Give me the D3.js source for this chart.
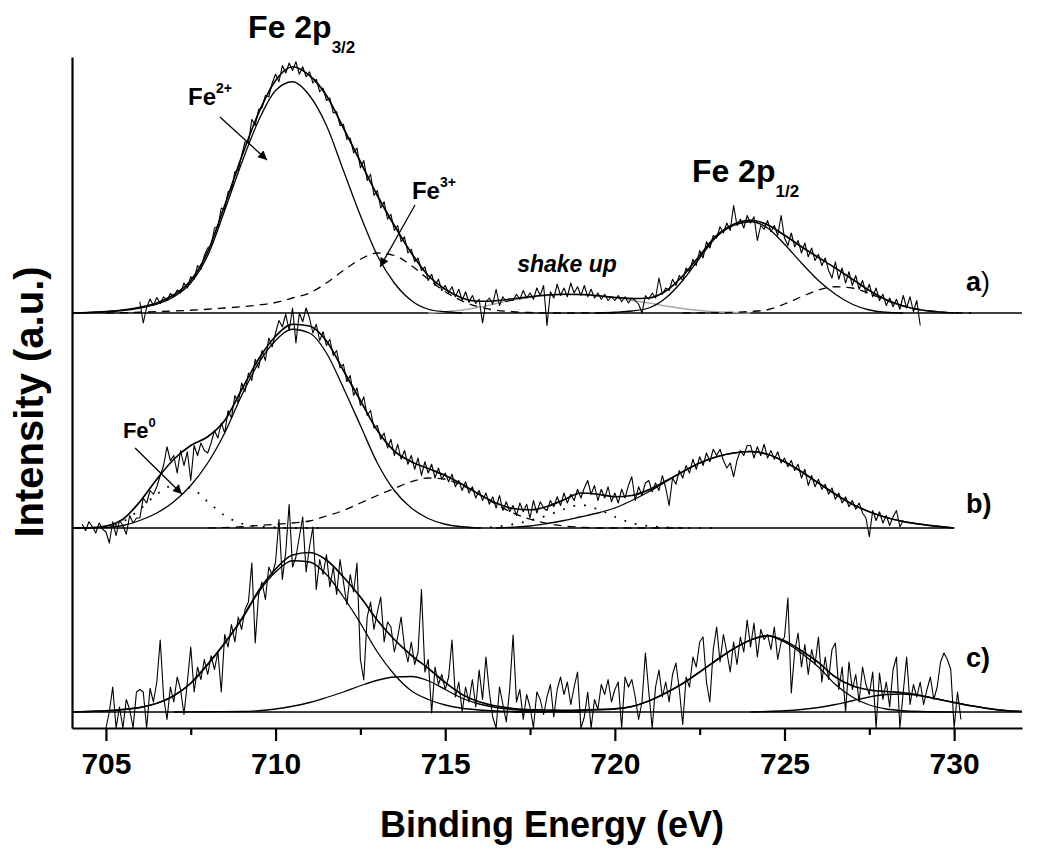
<!DOCTYPE html>
<html>
<head>
<meta charset="utf-8">
<script src="https://cdn.jsdelivr.net/npm/d3@7"></script>
<style>
  body { margin: 0; background: #ffffff; }
  svg { display: block; font-family: 'Liberation Sans', Arial, sans-serif; }
</style>
</head>
<body>
<svg id="svg_xps" width="1038" height="849"></svg>
<script>
// raw spectra, one value every 0.1 eV
const rawStep = 0.1;
const rawStartA = 706.0;
const rawStartB = 704.3;
const rawStartC = 705.0;

const rawA = [
  4.5, -4, 2.2, 5.6, 3, 6.2, 3.8, 6.5, 5, 7.8,
  6.5, 9.2, 8, 12, 10, 14.5, 13.5, 19, 17.5, 23,
  26, 27, 34, 34.5, 42, 41.5, 48.5, 49, 56.5, 57,
  63, 68.5, 68, 77.5, 75, 81.5, 82, 87, 86.5, 92,
  95.5, 92.5, 99, 96, 100, 97, 100.5, 95.5, 98.5, 94.5,
  96.5, 92, 93.5, 88.5, 90, 85, 86, 80, 80.5, 75,
  75.5, 69.5, 70, 64, 66, 58, 61, 53, 55.5, 47,
  49, 42, 44.5, 37.5, 39.5, 33, 35, 28.5, 30.5, 24,
  25.5, 20.5, 22, 17, 18.5, 13, 15.5, 11, 13.5, 9,
  11, 8, 10.5, 6.5, 9.5, 5, 8.5, 4.2, 7, 3.8,
  5.5, -4, 4.5, 6, 3.5, 9.5, 3, 6.5, 4.5, 5,
  5, 7.5, 5.5, 9, 6, 8, 5.5, 10, 7, 11,
  -5, 8.5, 6, 11.5, 7, 10, 6.5, 12, 8, 10.5,
  7, 11, 6.5, 9.5, 6, 8, 5.5, 7.5, 5, 6.5,
  5, 7, 4.5, 6.5, 4, 6, 5, 3.5, 0, 7,
  5.5, 8, 6, 14, 7.5, 10, 9, 13.5, 11, 15,
  13, 18, 16.5, 21.5, 19, 25, 22, 28.5, 26, 31,
  30, 34.5, 32, 36, 33, 43, 35, 37.5, 34, 39,
  36, 38.5, 29, 35, 33.5, 37, 32.5, 35, 31, 39,
  30, 27, 32, 26.5, 29, 24, 28, 22.5, 26, 21,
  23.5, 19, 22, 17, 14, 20.5, 13.5, 18, 12, 16.5,
  11, 15, 9.5, 13, 8, 11.5, 6.5, 10, 5, 7.5,
  3, 6, 2.5, 5.5, 1.5, 7, 2, 6.5, 0.5, 5,
  -5
];

const rawB = [
  1.5, -1, 2.5, 0.5, -2, 2, -0.5,
  -1.5, -6, 2.5, -3, 3, 1, -2.5, 5, 2, 4,
  4, 12, 10, 15, 13.5, 16.5, 21, 25, 32.5, 27,
  29, 22, 31, 25, 30.5, 19, 33, 29, 34, 31,
  30, 34, 39, 36, 42, 38, 47, 44, 53, 50,
  58, 54.5, 62, 59, 67.5, 64, 71, 67, 76, 72.5,
  78, 83, 80.5, 85.5, 79, 88, 74, 86, 82.5, 88,
  84, 78, 81.5, 75, 78.5, 73, 75.5, 69, 71, 64,
  65.5, 58.5, 61, 53, 56, 49, 52.5, 45, 47, 40,
  41, 35.5, 38, 32, 35.5, 29, 33.5, 27.5, 31, 25.5,
  29, 23.5, 28, 21, 26.5, 22, 25.5, 20, 24, 19.5,
  22, 18.5, 21.5, 16.5, 19, 15, 18.5, 14, 16.5, 12,
  15, 11, 14, 9.5, 12.5, 8, 13, 7, 10.5, 6.5,
  9, 5, 10, 6.5, 9.5, 4, 11, 6, 10.5, 8,
  7, 11, 8.5, 12.5, 9, 14, 10, 13.5, 11, 15.5,
  12, 16, 19, 13.5, 17, 11, 15.5, 12, 16.5, 10.5,
  14, 10, 15.5, 12, 17, 20.5, 11, 16.5, 13, 18,
  19, 14.5, 18, 15, 21, 16, 9, 20, 17.5, 23,
  20, 25, 22, 27.5, 23.5, 28.5, 25, 30, 26.5, 31.5,
  29, 31.5, 27, 24, 26, 20.5, 27, 31, 29, 33,
  33, 28, 32.5, 29, 33.5, 28, 31, 27.5, 30.5, 26,
  28, 24.5, 27, 23, 25.5, 20, 23.5, 17, 21, 16.5,
  19.5, 15.5, 17.5, 13.5, 16, 11.5, 14, 10, 12.5, 8.5,
  11, 7.5, 10, 6, 4, -3.5, 7, 3, 6.5, 2,
  5, 1, 4.5, 7, 0.5, 3
];

const rawC = [
  -6.4, 0, 10, -6.4, 2, -6.4, 5, 1, -6.4, 8,
  9, 8, -6.4, 9.5, 4, 12, 28.8, 6, -3, 10,
  4, 14, 9, -1, 12, 26, 8, 18, 13, 21,
  15, 22.5, 17, 24, 8, 31, 26, 35, 28, 38,
  33, 41, 44, 59.6, 27.6, 47, 52, 45, 58, 55,
  60, 77, 53, 64, 83, 58, 62, 70, 78, 56,
  66, 74, 49, 61, 55, 63, 50, 58, 47, 61,
  52, 43, 55, 48, 59.6, 21, 12.8, 38, 44, 33,
  40, 46, 28, 36, 34, 24, 30, 38, 26, 20,
  28, 19, 24, 49, 16, 21, -0.4, 18, 11, 15,
  9, 14, 28.8, 6, 12, 0, 10, 4, 13, 2,
  16.8, 5, 22, 8, -2, -6.4, 10, 3, -4, 9,
  30.8, 4, 9, -3, 7, 2, -6.4, 8, 5, -1,
  6, 11, -2, 9, 14, 7, 12, 3, 10, 16,
  -6.4, -2, 8, -6.4, 5, 1, 11, 7, 13, 4,
  9, 12, -6.4, 14, 10, 13, 6, -3, 4, 23.6,
  8, -6.4, 10, 16.8, 6, 12, 4, 15, 19.6, 9,
  -5, 14, 10, 22, 18, 28, 30, 12, 4, 25,
  34, 20, 31, 24, 16, 28, 19, 30, 24, 36.8,
  26, 35.6, 22, 33, 29, 31, 25, 34, 21, 28,
  30, 45.6, 7.6, 24, 31.6, 18, 27, 15, 25, 19,
  30, 12, 22, 13, 25, 27.6, 9, 18, 0, 20,
  9, 15, 4, 18, 11, 7, 16, -6.4, 15.6, 5,
  12, 2, 17, 22, -6.4, 8, 22, 3, 11, 6,
  12, 3, 9, 14, 5, 10, 20, 23.6, 21, 17,
  -6.4, 8, -3
];

// fitted curves, [binding energy, intensity]
const aEnvelope = [[704,0],[704.5,0.2],[705,0.6],[705.5,1.2],[706,2.3],[706.5,4],[707,7.3],[707.5,13],[708,24.5],[708.5,43],[709,62.5],[709.5,80],[710,93],[710.5,98.5],[711,95],[711.5,87],[712,74],[712.5,60.5],[713,47],[713.5,35],[714,24],[714.5,15],[715,9.5],[715.5,6],[716,4.7],[716.5,4.9],[717,5.7],[717.5,6.5],[718,7.2],[718.5,7.5],[719,7.4],[719.5,6.9],[720,6.2],[720.5,5.8],[721,6],[721.5,8.8],[722,14.8],[722.5,23],[723,31],[723.5,35.5],[724,37.1],[724.5,35.3],[725,31.1],[725.5,26.5],[726,22.2],[726.5,18],[727,13.5],[727.5,9],[728,5.3],[728.5,2.8],[729,1.3],[729.5,0.5],[730,0]];
const aFe2p3 = [[704,0],[704.5,0.2],[705,0.5],[705.5,1],[706,2],[706.5,3.5],[707,6.5],[707.5,12],[708,23],[708.5,41],[709,60],[709.5,77],[710,89],[710.5,92.5],[711,87],[711.5,75],[712,57],[712.5,39],[713,23],[713.5,12],[714,5],[714.5,1.5],[715,0.5],[715.5,0]];
const aFe2p1 = [[719.5,0],[720,0.3],[720.5,0.8],[721,2],[721.5,6],[722,13],[722.5,22],[723,30.5],[723.5,35],[724,36.5],[724.5,34],[725,27.5],[725.5,20],[726,13],[726.5,7.5],[727,3.5],[727.5,1.2],[728,0.3],[728.5,0]];
const aFe3p3 = [[705,0],[706,0.3],[707,0.8],[708,1.5],[708.5,2],[709,2.5],[709.5,3.2],[710,4.2],[710.5,6],[711,8],[711.5,12],[712,17],[712.5,21.5],[713,24],[713.5,23],[714,19],[714.5,13.5],[715,8.5],[715.5,4.8],[716,2.4],[716.5,1.1],[717,0.5],[717.5,0.2],[718,0],[720,0]];
const aFe3p1 = [[722,0],[723,0.1],[723.5,0.3],[724,0.6],[724.5,1.3],[725,3.6],[725.5,6.5],[726,9.2],[726.5,10.5],[727,10],[727.5,7.8],[728,5],[728.5,2.8],[729,1.3],[729.5,0.5],[730,0.1],[730.5,0]];
const aShake = [[714.5,0],[715,0.5],[715.5,1.2],[716,2.3],[716.5,3.8],[717,5.2],[717.5,6.3],[718,7],[718.5,7.4],[719,7.4],[719.5,6.9],[720,6.2],[720.5,5],[721,4],[721.5,2.8],[722,1.8],[722.5,1],[723,0.5],[723.5,0.2],[724,0]];

const bEnvelope = [[704,0],[704.5,0.1],[705,0.8],[705.5,3.5],[706,10.5],[706.5,19.5],[707,27.5],[707.5,33],[708,36.5],[708.5,43],[709,55.3],[709.5,67.6],[710,76.7],[710.5,81.5],[711,80.8],[711.5,74.8],[712,63],[712.5,51],[713,39],[713.5,30.8],[714,26.5],[714.5,23.8],[715,21],[715.5,17.5],[716,13.5],[716.5,10],[717,7.8],[717.5,7.3],[718,8.6],[718.5,11.3],[719,14],[719.5,13.5],[720,12.5],[720.5,13],[721,15.3],[721.5,18.8],[722,22.5],[722.5,26],[723,28.5],[723.5,30],[724,30.6],[724.5,29.5],[725,26.5],[725.5,22.5],[726,18],[726.5,13.5],[727,9.5],[727.5,6.5],[728,4.2],[728.5,2.6],[729,1.5],[729.5,0.7],[730,0]];
const bFe0 = [[704,0],[704.5,0.1],[705,0.5],[705.5,2.5],[706,7.5],[706.5,13.5],[707,17],[707.5,16],[708,10.5],[708.5,5],[709,1.8],[709.5,0.6],[710,0.2],[710.5,0],[711.5,0]];
const bFe2p3 = [[704,0],[704.5,0],[705,0.3],[705.5,1],[706,3],[706.5,6],[707,10.5],[707.5,17],[708,26],[708.5,38],[709,53],[709.5,66],[710,75],[710.5,79.5],[711,78],[711.5,70],[712,56],[712.5,41],[713,26],[713.5,15],[714,8],[714.5,3.8],[715,1.5],[715.5,0.5],[716,0]];
const bFe3 = [[708,0],[709,0.5],[709.5,1],[710,1.5],[710.5,2],[711,2.8],[711.5,4.8],[712,7],[712.5,10],[713,13],[713.5,15.8],[714,18.5],[714.5,20],[715,19.5],[715.5,17],[716,13.5],[716.5,9.5],[717,6],[717.5,3.5],[718,1.8],[718.5,0.8],[719,0.3],[719.5,0],[722,0]];
const bShake = [[716,0],[716.5,0.5],[717,1.5],[717.5,3],[718,5],[718.5,7.5],[719,9.2],[719.5,7.5],[720,4.5],[720.5,2],[721,0.8],[721.5,0.3],[722,0],[723,0]];
const bFe2p1 = [[716.5,0],[717,0.3],[717.5,0.8],[718,1.8],[718.5,3],[719,4.5],[719.5,6],[720,8],[720.5,11],[721,14.5],[721.5,18.5],[722,22.5],[722.5,26],[723,28.5],[723.5,30],[724,30.6],[724.5,29.5],[725,26.5],[725.5,22.5],[726,18],[726.5,13.5],[727,9.5],[727.5,6.5],[728,4.2],[728.5,2.6],[729,1.5],[729.5,0.7],[730,0]];

const cEnvelope = [[704,0],[704.5,0.2],[705,0.5],[705.5,1],[706,1.8],[706.5,3.5],[707,6.5],[707.5,11.5],[708,19.1],[708.5,27.6],[709,37.2],[709.5,48.5],[710,57.2],[710.5,62.8],[711,63.8],[711.5,60.8],[712,54],[712.5,46],[713,36.7],[713.5,29],[714,22.7],[714.5,17.5],[715,11.8],[715.5,7],[716,4.1],[716.5,2.4],[717,1.4],[717.5,0.9],[718,0.8],[718.5,0.7],[719,0.8],[719.5,1],[720,1.3],[720.5,2.2],[721,4.4],[721.5,7.6],[722,11.4],[722.5,16],[723,20.8],[723.5,25.3],[724,28.8],[724.5,30.6],[725,28.5],[725.5,24.5],[726,19.8],[726.5,14],[727,10.5],[727.5,8.8],[728,8.2],[728.5,7.7],[729,6.7],[729.5,5.2],[730,3.8],[730.5,2.5],[731,1.4],[731.5,0.6],[732,0.2]];
const cFe2p3 = [[704,0],[704.5,0.2],[705,0.5],[705.5,1],[706,1.8],[706.5,3.5],[707,6.5],[707.5,11.5],[708,19],[708.5,27.5],[709,37],[709.5,48],[710,56],[710.5,60.5],[711,60],[711.5,55],[712,46],[712.5,35.5],[713,24],[713.5,15],[714,8.5],[714.5,5],[715,2.8],[715.5,1.5],[716,0.8],[716.5,0.4],[717,0.2],[718,0]];
const cFe3 = [[707,0],[708,0.1],[709,0.2],[709.5,0.5],[710,1.2],[710.5,2.3],[711,3.8],[711.5,5.8],[712,8],[712.5,10.5],[713,12.7],[713.5,14],[714,14.2],[714.5,12.5],[715,9],[715.5,5.5],[716,3.2],[716.5,1.8],[717,1],[717.5,0.5],[718,0.2],[719,0]];
const cFe2p1 = [[717,0],[718,0.2],[718.5,0.4],[719,0.6],[719.5,0.9],[720,1.2],[720.5,2.2],[721,4.4],[721.5,7.6],[722,11.4],[722.5,16],[723,20.8],[723.5,25.3],[724,28.8],[724.5,30.4],[725,28],[725.5,23.5],[726,18],[726.5,11],[727,6],[727.5,2.8],[728,1.2],[728.5,0.5],[729,0.2],[730,0]];
const cSat = [[724,0],[724.5,0.2],[725,0.5],[725.5,1],[726,1.8],[726.5,3],[727,4.5],[727.5,6],[728,7],[728.5,7.2],[729,6.5],[729.5,5.2],[730,3.8],[730.5,2.5],[731,1.4],[731.5,0.6],[732,0.2]];

// background lines under each spectrum [from, to] eV
const baseA = [704, 732];
const baseB = [704, 730];
const baseC = [704, 732];

const xTicks = [705, 710, 715, 720, 725, 730];
const xMinorTicks = [707.5, 712.5, 717.5, 722.5, 727.5];

const svg = d3.select('svg#svg_xps');
const margin = { top: 57, right: 16, bottom: 121, left: 72 };
const width = +svg.attr('width') - margin.left - margin.right;
const axisY = +svg.attr('height') - margin.bottom;

const styles = {
  raw: { fill: 'none', stroke: '#000', 'stroke-width': 1.1, 'stroke-linejoin': 'round' },
  envelope: { fill: 'none', stroke: '#000', 'stroke-width': 1.7 },
  comp: { fill: 'none', stroke: '#000', 'stroke-width': 1.3 },
  dashed: { fill: 'none', stroke: '#000', 'stroke-width': 1.3, 'stroke-dasharray': '8,6' },
  dotted: { fill: 'none', stroke: '#000', 'stroke-width': 1.8, 'stroke-dasharray': '1.8,9' },
  grey: { fill: 'none', stroke: '#a8a8a8', 'stroke-width': 1.3 },
  base: { stroke: '#000', 'stroke-width': 1.6 },
};

function setAttrs(sel, obj) {
  Object.keys(obj).forEach((k) => sel.attr(k, obj[k]));
  return sel;
}

const x = d3.scaleLinear()
  .domain([704, 732])
  .range([margin.left, margin.left + width]);

const yA = d3.scaleLinear().domain([0, 100]).range([313, 63]);
const yB = d3.scaleLinear().domain([0, 100]).range([528, 278]);
const yC = d3.scaleLinear().domain([0, 100]).range([712, 462]);

const fitLine = y => d3.line()
  .x(d => x(d[0]))
  .y(d => y(d[1]))
  .curve(d3.curveMonotoneX);

const rawLine = (y, start) => d3.line()
  .x((d, i) => x(start + i * rawStep))
  .y(d => y(d));

const layers = svg.append('g').attr('id', 'layers');

function drawPanel(id, y, base, raw, rawStart, fits) {
  const g = layers.append('g').attr('id', `panel_${id}`);
  setAttrs(g.append('line'), styles.base)
    .attr('x1', x(base[0]))
    .attr('x2', x(base[1]))
    .attr('y1', y(0))
    .attr('y2', y(0));
  fits.forEach((f) => {
    setAttrs(g.append('path'), styles[f.style])
      .attr('d', fitLine(y)(f.data));
  });
  setAttrs(g.append('path'), styles.raw)
    .attr('d', rawLine(y, rawStart)(raw));
  return g;
}

drawPanel('a', yA, baseA, rawA, rawStartA, [
  { data: aShake, style: 'grey' },
  { data: aFe3p3, style: 'dashed' },
  { data: aFe3p1, style: 'dashed' },
  { data: aFe2p3, style: 'comp' },
  { data: aFe2p1, style: 'comp' },
  { data: aEnvelope, style: 'envelope' },
]);

drawPanel('b', yB, baseB, rawB, rawStartB, [
  { data: bFe0, style: 'dotted' },
  { data: bShake, style: 'dotted' },
  { data: bFe3, style: 'dashed' },
  { data: bFe2p3, style: 'comp' },
  { data: bFe2p1, style: 'comp' },
  { data: bEnvelope, style: 'envelope' },
]);

drawPanel('c', yC, baseC, rawC, rawStartC, [
  { data: cFe3, style: 'comp' },
  { data: cSat, style: 'comp' },
  { data: cFe2p3, style: 'comp' },
  { data: cFe2p1, style: 'comp' },
  { data: cEnvelope, style: 'envelope' },
]);

// axes
const yFrame = d3.scaleLinear().domain([0, 1]).range([axisY, margin.top]);
const gLeft = svg.append('g')
  .attr('transform', `translate(${margin.left},0)`)
  .call(d3.axisLeft(yFrame).tickValues([]).tickSizeOuter(0));

const gBottom = svg.append('g')
  .attr('transform', `translate(0,${axisY})`)
  .call(d3.axisBottom(x).tickValues(xTicks).tickSize(13).tickSizeOuter(0).tickPadding(12));

const gMinor = svg.append('g')
  .attr('transform', `translate(0,${axisY})`)
  .call(d3.axisBottom(x).tickValues(xMinorTicks).tickSize(7).tickSizeOuter(0).tickFormat(''));
gMinor.select('.domain').remove();

[gLeft, gBottom, gMinor].forEach((g) => {
  g.selectAll('path, line').attr('stroke', '#000').attr('stroke-width', 2.2);
});
gBottom.selectAll('text')
  .attr('fill', '#000')
  .style('font-family', '\'Liberation Sans\', Arial, sans-serif')
  .style('font-size', '30px')
  .style('font-weight', 'bold');

svg.append('text')
  .attr('x', 552)
  .attr('y', 837)
  .attr('text-anchor', 'middle')
  .style('font-size', '36px')
  .style('font-weight', 'bold')
  .text('Binding Energy (eV)');

svg.append('text')
  .attr('transform', 'translate(43,402) rotate(-90)')
  .attr('text-anchor', 'middle')
  .style('font-size', '40px')
  .style('font-weight', 'bold')
  .text('Intensity (a.u.)');

// peak titles and labels
function labelWithIndex(px, py, main, idx, size, idxSize, dy) {
  const t = svg.append('text')
    .attr('x', px)
    .attr('y', py)
    .style('font-size', `${size}px`)
    .style('font-weight', 'bold');
  t.append('tspan').text(main);
  t.append('tspan')
    .attr('dy', dy)
    .style('font-size', `${idxSize}px`)
    .text(idx);
  return t;
}

labelWithIndex(x(709.19), yA(110), 'Fe 2p', '3/2', 32, 17, 15);
labelWithIndex(x(722.27), yA(52.4), 'Fe 2p', '1/2', 32, 17, 15);
labelWithIndex(x(707.42), yA(83.2), 'Fe', '2+', 24, 14, -12);
labelWithIndex(x(714.02), yA(45.6), 'Fe', '3+', 24, 14, -12);
labelWithIndex(x(705.5), yB(36), 'Fe', '0', 22, 13, -11);

svg.append('text')
  .attr('x', x(717.12))
  .attr('y', yA(16.4))
  .style('font-size', '23px')
  .style('font-weight', 'bold')
  .style('font-style', 'italic')
  .text('shake up');

const panelLabels = [
  { y: yA(8.8), text: 'a', close: 'normal' },
  { y: yB(6), text: 'b', close: 'bold' },
  { y: yC(18), text: 'c', close: 'bold' },
];
panelLabels.forEach((d) => {
  const t = svg.append('text')
    .attr('x', x(730.35))
    .attr('y', d.y)
    .style('font-size', '27px')
    .style('font-weight', 'bold');
  t.append('tspan').text(d.text);
  t.append('tspan').style('font-weight', d.close).text(')');
});

// arrows
svg.append('defs')
  .append('marker')
  .attr('id', 'arrow_head')
  .attr('viewBox', '0 0 10 10')
  .attr('refX', 10)
  .attr('refY', 5)
  .attr('markerWidth', 17)
  .attr('markerHeight', 9)
  .attr('markerUnits', 'userSpaceOnUse')
  .attr('orient', 'auto')
  .append('path')
  .attr('d', 'M0,0L10,5L0,10Z')
  .attr('fill', '#000');

const arrows = [
  { y: yA, from: [708.36, 78.4], to: [709.75, 61.2] },
  { y: yA, from: [714.11, 43.2], to: [713.08, 18.4] },
  { y: yB, from: [705.86, 32], to: [707.24, 13.6] },
];
arrows.forEach((a) => {
  svg.append('line')
    .attr('x1', x(a.from[0]))
    .attr('y1', a.y(a.from[1]))
    .attr('x2', x(a.to[0]))
    .attr('y2', a.y(a.to[1]))
    .attr('stroke', '#000')
    .attr('stroke-width', 1.3)
    .attr('marker-end', 'url(#arrow_head)');
});
</script>
</body>
</html>
